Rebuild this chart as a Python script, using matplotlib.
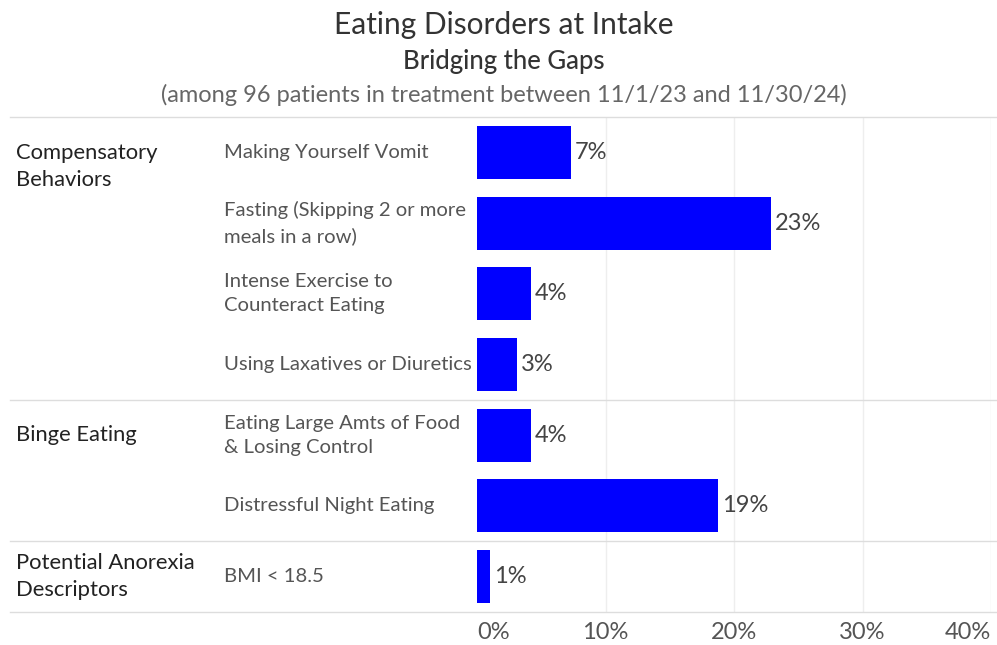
import numpy as np
import matplotlib.pyplot as plt

plt.rcParams['font.family'] = ['Lato', 'DejaVu Sans']

# data (share of 96 patients)
groups = ["Compensatory\nBehaviors", "Binge Eating", "Potential Anorexia\nDescriptors"]
group_rows = [0.2, 4, 6]          # row where each group label sits
group_breaks = [3.5, 5.5]         # separators between groups
items = ["Making Yourself Vomit",
         "Fasting (Skipping 2 or more\nmeals in a row)",
         "Intense Exercise to\nCounteract Eating",
         "Using Laxatives or Diuretics",
         "Eating Large Amts of Food\n& Losing Control",
         "Distressful Night Eating",
         "BMI < 18.5"]
counts = np.array([7, 22, 4, 3, 4, 18, 1])
n_patients = 96
pct = counts / n_patients
xticks = [0, 0.1, 0.2, 0.3, 0.4]
xtick_labels = ["0%", "10%", "20%", "30%", "40%"]

W, H = 997, 645
fig = plt.figure(figsize=(W / 100, H / 100), dpi=100)
ax = fig.add_axes([477 / W, 1 - 612 / H, 514 / W, 495 / H])

y = np.arange(len(items))
ax.barh(y, pct, height=0.75, color="#0000ff", zorder=3)
ax.set_xlim(0, 0.4)
ax.set_ylim(len(items) - 0.5, -0.5)

for s in ax.spines.values():
    s.set_visible(False)
ax.set_yticks([])
ax.set_xticks(xticks)
ax.set_xticklabels(xtick_labels, fontsize=17, color="#555555")
ax.tick_params(axis="x", length=0, pad=7)
tl = ax.get_xticklabels()
tl[0].set_ha("left")
tl[-1].set_ha("right")
for xt in xticks[1:]:
    ax.axvline(xt, color="#eeeeee", lw=1, zorder=1)

# value labels
for yi, v in zip(y, pct):
    ax.text(v + 0.003, yi, f"{v:.0%}", va="center", ha="left",
            fontsize=17, color="#444444")

# row separators (run across the header columns too)
x_left = (10 - 477) / 514
x_right = (997 - 477) / 514
line_kw = dict(color="#dddddd", lw=1, clip_on=False, zorder=2)
ax.plot([x_left, x_right], [1, 1], transform=ax.transAxes, **line_kw)
ax.plot([x_left, x_right], [0, 0], transform=ax.transAxes, **line_kw)
for b in group_breaks:
    ax.plot([x_left, x_right], [b, b], transform=ax.get_yaxis_transform(), **line_kw)

# header columns
col1 = (16 - 477) / 514
col2 = (224 - 477) / 514
for g, r in zip(groups, group_rows):
    ax.text(col1, r, g, transform=ax.get_yaxis_transform(), va="center",
            ha="left", fontsize=15.8, color="#222222", linespacing=1.45)
for it, yi in zip(items, y):
    ax.text(col2, yi, it, transform=ax.get_yaxis_transform(), va="center",
            ha="left", fontsize=14.6, color="#555555", linespacing=1.5)

# titles
fig.text(504 / W, 1 - 25 / H, "Eating Disorders at Intake", ha="center",
         va="center", fontsize=21.5, color="#333333")
fig.text(504 / W, 1 - 61 / H, "Bridging the Gaps", ha="center",
         va="center", fontsize=18.5, color="#333333", weight="medium")
fig.text(504 / W, 1 - 95 / H,
         "(among 96 patients in treatment between 11/1/23 and 11/30/24)",
         ha="center", va="center", fontsize=17, color="#666666")

fig.savefig("out.png", dpi=100, facecolor="white")
